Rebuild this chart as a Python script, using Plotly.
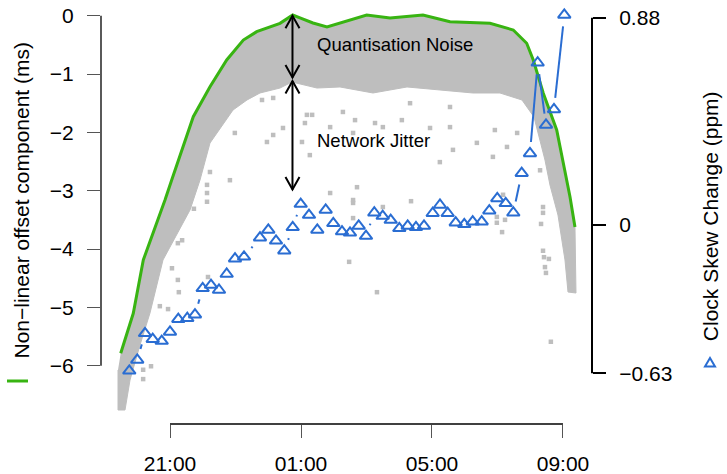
import math
import plotly.graph_objects as go

# ---------------- data ----------------
# time axis in hours (21 = 21:00, 25 = 01:00 next day, ...)
x_tick_vals = [21, 25, 29, 33]
x_tick_text = ["21:00", "01:00", "05:00", "09:00"]

left_tick_vals = [0, -1, -2, -3, -4, -5, -6]
left_tick_text = ["0", "\u22121", "\u22122", "\u22123", "\u22124", "\u22125", "\u22126"]

right_tick_vals = [0.88, 0, -0.63]
right_tick_text = ["0.88", "0", "\u22120.63"]

# upper envelope of the offset (green line), ms
green_x = [19.495, 19.879, 20.185, 20.490, 20.847, 21.052, 21.711, 22.221, 22.731,
           23.238, 23.647, 24.359, 24.747, 24.969, 25.366, 25.794, 26.191, 27.006,
           27.718, 28.725, 29.550, 30.771, 31.482, 31.892, 32.093, 32.399, 32.808,
           33.214, 33.366]
green_y = [-5.788, -5.102, -4.188, -3.730, -3.160, -2.817, -1.732, -1.217, -0.759,
           -0.417, -0.274, -0.130, 0.012, -0.039, -0.125, -0.194, -0.125, 0.012,
           -0.039, 0.012, -0.103, -0.130, -0.245, -0.473, -0.759, -1.330, -1.960,
           -3.103, -3.622]

# lower edge of the dense grey cloud (right to left), ms
band_low_x = [33.397, 33.153, 33.061, 32.847, 32.603, 32.450, 32.298, 32.115, 31.748,
              31.076, 30.252, 29.244, 28.237, 27.198, 26.191, 25.489, 24.725, 24.359,
              23.748, 23.351, 22.924, 22.221, 21.916, 21.611, 20.786, 20.389, 20.084,
              19.779, 19.626, 19.412, 19.412]
band_low_y = [-4.754, -4.737, -4.188, -3.417, -2.903, -2.474, -2.131, -1.737, -1.445,
              -1.325, -1.325, -1.274, -1.222, -1.325, -1.222, -1.240, -1.137, -1.240,
              -1.325, -1.445, -1.617, -2.183, -2.817, -3.331, -4.188, -5.097, -5.645,
              -6.245, -6.760, -6.760, -6.074]

# isolated grey samples (network jitter), ms
jitter_x = [24.15, 24.45, 23.96, 25.27, 22.83, 22.98, 23.81, 25.18, 25.89, 26.28,
            26.59, 25.89, 22.22, 22.13, 25.34, 25.12, 24.15, 25.03, 26.65, 27.26,
            27.50, 28.08, 28.33, 28.94, 29.55, 29.64, 30.37, 30.92, 30.86, 31.29,
            31.60, 32.30, 29.24, 29.55, 22.13, 22.13, 21.73, 21.24, 21.37, 21.06,
            21.24, 21.27, 20.94, 20.69, 20.42, 20.18, 20.18, 26.59, 26.59, 22.16,
            26.71, 26.59, 27.50, 28.36, 27.32, 31.17, 30.98, 31.23, 31.14, 32.39,
            32.39, 32.33, 32.39, 32.42, 32.57, 32.45, 32.48, 32.63, 30.98, 26.47]
jitter_y = [-1.41, -1.925, -2.165, -2.39, -2.82, -2.01, -1.445, -1.70, -1.91, -1.65,
            -2.01, -3.04, -2.68, -2.90, -1.70, -1.84, -2.045, -2.165, -1.79, -1.84,
            -1.91, -1.79, -1.50, -1.925, -1.91, -2.30, -2.18, -1.96, -2.42, -2.25,
            -2.01, -2.65, -2.51, -1.565, -3.04, -3.19, -3.31, -3.90, -3.85, -4.33,
            -4.53, -4.74, -5.03, -4.98, -6.01, -6.07, -6.23, -3.16, -3.47, -4.48,
            -2.94, -3.21, -3.28, -3.18, -4.74, -3.07, -3.45, -3.50, -3.71, -3.28,
            -3.38, -3.57, -4.03, -4.14, -4.17, -4.31, -4.41, -5.59, -3.55, -4.22]

# clock skew change, ppm
skew_x = [19.757, 20.000, 20.237, 20.472, 20.747, 21.000, 21.253, 21.528, 21.763,
          21.998, 22.252, 22.496, 22.731, 22.985, 23.260, 23.748, 24.002, 24.237,
          24.490, 24.747, 24.991, 25.244, 25.498, 25.754, 25.986, 26.252, 26.496,
          26.762, 26.985, 27.238, 27.495, 27.739, 28.002, 28.258, 28.511, 28.756,
          29.021, 29.244, 29.479, 29.724, 29.986, 30.243, 30.518, 30.750, 30.994,
          31.250, 31.483, 31.739, 31.992, 32.227, 32.481, 32.725, 33.040]
skew_y = [-0.619, -0.573, -0.460, -0.485, -0.493, -0.454, -0.400, -0.396, -0.381,
          -0.269, -0.255, -0.276, -0.208, -0.143, -0.135, -0.054, -0.021, -0.067,
          -0.109, -0.010, 0.089, 0.042, -0.021, 0.064, 0.007, -0.028, -0.033,
          -0.004, -0.047, 0.052, 0.038, 0.021, -0.014, -0.004, -0.010, -0.004,
          0.050, 0.085, 0.050, 0.010, 0.003, 0.014, 0.014, 0.061, 0.113,
          0.092, 0.052, 0.220, 0.304, 0.689, 0.425, 0.491, 0.892]

# annotation positions (data units)
arrow_x = 24.74
quant_arrow = (0.0, -1.06)
jitter_arrow = (-1.12, -2.98)
label_x = 25.43
quant_label_y = -0.50
jitter_label_y = -2.14

# ---------------- styling / layout ----------------
W, H = 727, 474
ML, MR, MT, MB = 101, 135, 2, 50
PW, PH = W - ML - MR, H - MT - MB
XR = [18.893, 33.886]
YR = [-7.0, 0.235]
Y2R = [-0.845, 0.947]

GREY = "#BEBEBE"
GREEN = "#38B412"
BLUE = "#2A6DD2"
FONT = "Liberation Sans, Arial, Helvetica, sans-serif"

fig = go.Figure()

# grey dense cloud as a polygon (upper = green envelope, lower = band edge)
fig.add_trace(go.Scatter(
    x=green_x + band_low_x, y=green_y + band_low_y,
    mode="lines", fill="toself", fillcolor=GREY,
    line=dict(color=GREY, width=1), hoverinfo="skip", showlegend=False))

fig.add_trace(go.Scatter(
    x=jitter_x, y=jitter_y, mode="markers",
    marker=dict(symbol="square", size=4.5, color=GREY, line=dict(width=0)),
    showlegend=False))

fig.add_trace(go.Scatter(
    x=green_x, y=green_y, mode="lines",
    line=dict(color=GREEN, width=3), showlegend=False))

# blue connecting line, R type="b" style (gaps around points)
def to_px(x, y):
    return ((x - XR[0]) / (XR[1] - XR[0]) * PW,
            (Y2R[1] - y) / (Y2R[1] - Y2R[0]) * PH)

def to_data(px, py):
    return (XR[0] + px / PW * (XR[1] - XR[0]),
            Y2R[1] - py / PH * (Y2R[1] - Y2R[0]))

GAP = 11.5
seg_x, seg_y = [], []
for i in range(len(skew_x) - 1):
    p0 = to_px(skew_x[i], skew_y[i])
    p1 = to_px(skew_x[i + 1], skew_y[i + 1])
    dx, dy = p1[0] - p0[0], p1[1] - p0[1]
    d = math.hypot(dx, dy)
    if d > 2 * GAP:
        ux, uy = dx / d, dy / d
        a = to_data(p0[0] + ux * GAP, p0[1] + uy * GAP)
        b = to_data(p1[0] - ux * GAP, p1[1] - uy * GAP)
        seg_x += [a[0], b[0], None]
        seg_y += [a[1], b[1], None]

fig.add_trace(go.Scatter(
    x=seg_x, y=seg_y, yaxis="y2", mode="lines",
    line=dict(color=BLUE, width=2), showlegend=False, connectgaps=False))

fig.add_trace(go.Scatter(
    x=skew_x, y=skew_y, yaxis="y2", mode="markers",
    marker=dict(symbol="triangle-up-open", size=11, color=BLUE,
                line=dict(color=BLUE, width=2)),
    showlegend=False))

shapes = []
# R-style axis lines
shapes.append(dict(type="line", xref="paper", yref="y", x0=0, x1=0,
                   y0=left_tick_vals[0], y1=left_tick_vals[-1],
                   line=dict(color="black", width=1.3)))
shapes.append(dict(type="line", xref="paper", yref="y2", x0=1, x1=1,
                   y0=right_tick_vals[0], y1=right_tick_vals[-1],
                   line=dict(color="black", width=2)))
shapes.append(dict(type="line", xref="x", yref="paper", x0=x_tick_vals[0],
                   x1=x_tick_vals[-1], y0=0, y1=0,
                   line=dict(color="black", width=1.5)))

# double-headed arrows
for (ya, yb) in (quant_arrow, jitter_arrow):
    shapes.append(dict(type="line", xref="x", yref="y", x0=arrow_x, x1=arrow_x,
                       y0=ya, y1=yb, line=dict(color="black", width=2)))
    shapes.append(dict(type="path", xref="x", yref="y", xsizemode="pixel",
                       ysizemode="pixel", xanchor=arrow_x, yanchor=ya,
                       path="M-7,-12.5 L0,0 L7,-12.5",
                       line=dict(color="black", width=2)))
    shapes.append(dict(type="path", xref="x", yref="y", xsizemode="pixel",
                       ysizemode="pixel", xanchor=arrow_x, yanchor=yb,
                       path="M-7,12.5 L0,0 L7,12.5",
                       line=dict(color="black", width=2)))

# legend keys next to axis titles
shapes.append(dict(type="line", xref="paper", yref="paper",
                   x0=(7 - ML) / PW, x1=(28 - ML) / PW,
                   y0=(H - MB - 381) / PH, y1=(H - MB - 381) / PH,
                   line=dict(color=GREEN, width=3)))
shapes.append(dict(type="path", xref="paper", yref="paper", xsizemode="pixel",
                   ysizemode="pixel", xanchor=(710 - ML) / PW,
                   yanchor=(H - MB - 363) / PH,
                   path="M-5,-3.5 L5,-3.5 L0,5 Z",
                   line=dict(color=BLUE, width=2)))

annotations = [
    dict(text="Quantisation Noise", x=label_x, y=quant_label_y, xref="x", yref="y",
         xanchor="left", yanchor="middle", showarrow=False,
         font=dict(family=FONT, size=18.5, color="black")),
    dict(text="Network Jitter", x=label_x, y=jitter_label_y, xref="x", yref="y",
         xanchor="left", yanchor="middle", showarrow=False,
         font=dict(family=FONT, size=18.5, color="black")),
    dict(text="Non\u2212linear offset component (ms)", textangle=-90,
         x=(21 - ML) / PW, y=(H - MB - 200.5) / PH, xref="paper", yref="paper",
         xanchor="center", yanchor="middle", showarrow=False,
         font=dict(family=FONT, size=21, color="black")),
    dict(text="Clock Skew Change (ppm)", textangle=-90,
         x=(710.7 - ML) / PW, y=(H - MB - 216.5) / PH, xref="paper", yref="paper",
         xanchor="center", yanchor="middle", showarrow=False,
         font=dict(family=FONT, size=21, color="black")),
]

common_axis = dict(showline=False, showgrid=False, zeroline=False,
                   automargin=False, ticks="outside", ticklen=13,
                   tickfont=dict(size=21))

fig.update_layout(
    width=W, height=H,
    margin=dict(l=ML, r=MR, t=MT, b=MB, pad=0, autoexpand=False),
    paper_bgcolor="white", plot_bgcolor="white",
    showlegend=False,
    font=dict(family=FONT, size=21, color="black"),
    xaxis=dict(range=XR, tickvals=x_tick_vals, ticktext=x_tick_text,
               tickwidth=1.2, tickcolor="#555", ticklabelstandoff=8,
               **common_axis),
    yaxis=dict(range=YR, tickvals=left_tick_vals, ticktext=left_tick_text,
               tickwidth=1.2, tickcolor="#555", ticklabelstandoff=9,
               **common_axis),
    yaxis2=dict(range=Y2R, tickvals=right_tick_vals, ticktext=right_tick_text,
                overlaying="y", side="right",
                tickwidth=2, tickcolor="black", ticklabelstandoff=9,
                **common_axis),
    shapes=shapes, annotations=annotations,
)

fig.write_html("out.html", config={"displayModeBar": False},
               post_script="document.body.style.margin='0';document.body.style.padding='0';")
